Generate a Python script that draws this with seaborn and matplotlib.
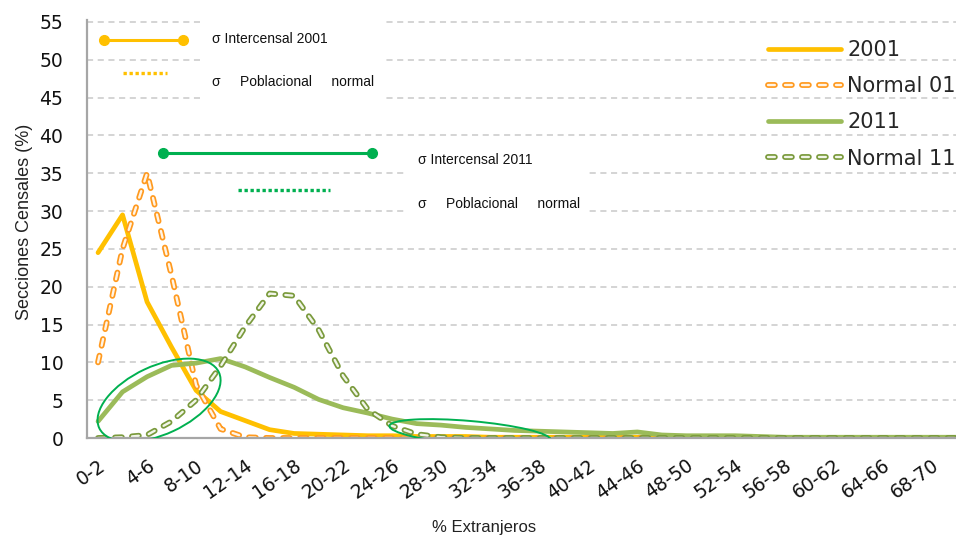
import numpy as np
import pandas as pd
import seaborn as sns
import matplotlib.pyplot as plt
import matplotlib.patheffects as pe
from matplotlib.patches import Ellipse, Rectangle
from matplotlib.transforms import IdentityTransform

# categories (% of foreigners per census section)
bins = ['0-2', '2-4', '4-6', '6-8', '8-10', '10-12', '12-14', '14-16', '16-18',
        '18-20', '20-22', '22-24', '24-26', '26-28', '28-30', '30-32', '32-34',
        '34-36', '36-38', '38-40', '40-42', '42-44', '44-46', '46-48', '48-50',
        '50-52', '52-54', '54-56', '56-58', '58-60', '60-62', '62-64', '64-66',
        '66-68', '68-70', '70-72']

pct_2001 = [24.5, 29.5, 18.0, 12.0, 6.3, 3.5, 2.3, 1.1, 0.6, 0.5, 0.4, 0.3,
            0.3, 0.2, 0.2, 0.2, 0.1, 0.1, 0.1, 0.1, 0.1, 0.1, 0.1, 0.1,
            0.1, 0.1, 0.1, 0.0, 0.0, 0.0, 0.0, 0.0, 0.0, 0.0, 0.0, 0.0]
normal_01 = [10.0, 25.0, 35.0, 21.5, 7.0, 1.2, 0.1, 0.0, 0.0, 0.0, 0.0, 0.0,
             0.0, 0.0, 0.0, 0.0, 0.0, 0.0, 0.0, 0.0, 0.0, 0.0, 0.0, 0.0,
             0.0, 0.0, 0.0, 0.0, 0.0, 0.0, 0.0, 0.0, 0.0, 0.0, 0.0, 0.0]
pct_2011 = [2.2, 6.1, 8.1, 9.6, 9.9, 10.5, 9.4, 8.0, 6.7, 5.1, 4.0, 3.3,
            2.5, 1.9, 1.7, 1.4, 1.2, 1.0, 0.9, 0.8, 0.7, 0.6, 0.8, 0.4,
            0.3, 0.3, 0.3, 0.2, 0.1, 0.1, 0.1, 0.1, 0.1, 0.1, 0.1, 0.1]
normal_11 = [0.0, 0.1, 0.4, 2.2, 5.0, 9.5, 14.7, 19.1, 18.8, 14.3, 8.2, 3.8,
             1.6, 0.5, 0.1, 0.0, 0.0, 0.0, 0.0, 0.0, 0.0, 0.0, 0.0, 0.0,
             0.0, 0.0, 0.0, 0.0, 0.0, 0.0, 0.0, 0.0, 0.0, 0.0, 0.0, 0.0]

# sigma bars drawn on the chart (x in category units, y in %)
sigma_int_2001 = ([0.25, 3.47], 52.6)
sigma_pob_2001 = ([1.02, 2.82], 48.3)
sigma_int_2011 = ([2.65, 11.18], 37.7)
sigma_pob_2011 = ([5.71, 9.47], 32.8)

YELLOW = '#FFC000'
ORANGE = '#FF9A1F'
GREEN = '#9BBB59'
OLIVE = '#7A9A3C'
VIVID = '#00B050'

df = pd.DataFrame({'pos': np.arange(len(bins)), 'bin': bins,
                   '2001': pct_2001, 'Normal 01': normal_01,
                   '2011': pct_2011, 'Normal 11': normal_11})
long_df = df.melt(id_vars=['pos', 'bin'], var_name='serie', value_name='valor')

sns.set_style('white')
plt.rcParams['font.family'] = ['DejaVu Sans']

fig = plt.figure(figsize=(9.56, 5.36), dpi=100)
ax = fig.add_subplot(111)
fig.subplots_adjust(left=87 / 956, right=1.0, bottom=98 / 536, top=1 - 19.7 / 536)

solid_style = {'2001': YELLOW, '2011': GREEN}
dashed_style = {'Normal 01': (ORANGE, '#FFF4E6'), 'Normal 11': (OLIVE, '#F1F5E8')}

for name in ['2001', 'Normal 01', '2011', 'Normal 11']:
    sub = long_df[long_df['serie'] == name]
    if name in solid_style:
        sns.lineplot(data=sub, x='pos', y='valor', ax=ax, color=solid_style[name],
                     lw=3.4, label=name, errorbar=None, solid_joinstyle='round')
    else:
        outer, inner = dashed_style[name]
        sns.lineplot(data=sub, x='pos', y='valor', ax=ax, color=inner, lw=1.7,
                     linestyle=(0, (2.9, 4.3)), dash_capstyle='round',
                     label=name, errorbar=None,
                     path_effects=[pe.Stroke(linewidth=4.2, foreground=outer), pe.Normal()])

ax.set_xlim(-0.45, 35.0)
ax.set_ylim(0, 55.3)

# axes styling
ax.set_yticks(range(0, 56, 5))
ax.set_xticks(df['pos'][::2])
ax.set_xticklabels(df['bin'][::2], rotation=35, ha='right', va='top',
                   rotation_mode='anchor')
ax.tick_params(axis='y', length=6, width=1.2, color='#A6A6A6', pad=11,
               labelsize=13.5, labelcolor='#111111')
ax.tick_params(axis='x', length=0, pad=13, labelsize=13.5, labelcolor='#111111')
ax.yaxis.grid(True, linestyle=(0, (4, 3)), color='#C9C9C9', lw=1.1)
ax.xaxis.grid(False)
ax.set_axisbelow(True)
for side in ['top', 'right']:
    ax.spines[side].set_visible(False)
for side in ['left', 'bottom']:
    ax.spines[side].set_color('#A6A6A6')
    ax.spines[side].set_linewidth(1.6)

ax.set_xlabel('% Extranjeros', fontsize=12, family='Liberation Sans', color='#222222')
ax.set_ylabel('Secciones Censales (%)', fontsize=13, family='Liberation Sans',
              color='#222222')
ax.xaxis.set_label_coords(0.457, -0.195)
ax.yaxis.set_label_coords(-0.062, 0.517)

# white text boxes over the grid
ax.add_patch(Rectangle((4.16, 44.0), 7.47, 12.3, facecolor='white',
                       edgecolor='none', zorder=1, clip_on=False))
ax.add_patch(Rectangle((12.53, 29.5), 7.42, 9.9, facecolor='white',
                       edgecolor='none', zorder=1))

# sigma bars
for (xs, y), col in [(sigma_int_2001, YELLOW), (sigma_int_2011, VIVID)]:
    ax.plot(xs, [y, y], color=col, lw=2.2, marker='o', ms=7, zorder=3, clip_on=False)
for (xs, y), col in [(sigma_pob_2001, YELLOW), (sigma_pob_2011, VIVID)]:
    ax.plot(xs, [y, y], color=col, lw=2.4, linestyle=(0, (1, 0.8)),
            dash_capstyle='butt', zorder=3)

txt = dict(fontsize=10, family='Liberation Sans', color='#111111', va='center',
           ha='left', zorder=4)
ax.text(4.65, 52.75, 'σ Intercensal 2001', **txt)
ax.text(4.65, 47.1, 'σ     Poblacional     normal', **txt)
ax.text(13.06, 36.75, 'σ Intercensal 2011', **txt)
ax.text(13.06, 30.9, 'σ     Poblacional     normal', **txt)

# highlight ellipses (sized in pixels, centred on data points)
for (cx, cy), w, h, ang in [((2.49, 5.0), 132, 68, 25), ((15.18, 0.66), 162, 24, -5)]:
    px, py = ax.transData.transform((cx, cy))
    ax.add_patch(Ellipse((px, py), w, h, angle=ang, transform=IdentityTransform(),
                         facecolor='none', edgecolor=VIVID, lw=1.4, zorder=5))

ax.legend(loc='upper left', bbox_to_anchor=(768 / 956, 1 - 40 / 536),
          bbox_transform=fig.transFigure, frameon=False, fontsize=15,
          handlelength=3.5, handletextpad=0.3, labelspacing=0.78,
          borderpad=0, borderaxespad=0)

fig.savefig('out.png', dpi=100)
